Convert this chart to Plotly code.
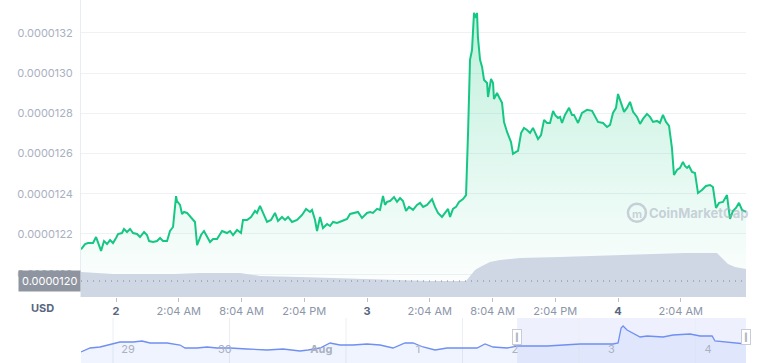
import plotly.graph_objects as go

# ---------------- data ----------------
# main chart: hours relative to Aug 2 00:00, price in units of 1e-7 USD
hours = [-3.35, -2.96, -2.68, -2.20, -1.91, -1.72, -1.43, -1.15, -0.86, -0.57, -0.29, 0.00, 0.19, 0.57, 0.76,
         1.05, 1.34, 1.63, 2.01, 2.29, 2.68, 2.96, 3.16, 3.54, 3.92, 4.21, 4.49, 4.88, 5.16, 5.45, 5.74, 5.83,
         6.12, 6.31, 6.50, 6.79, 7.27, 7.55, 7.75, 8.13, 8.41, 8.70, 8.99, 9.28, 9.66, 10.14, 10.61, 10.90,
         11.19, 11.57, 11.95, 12.14, 12.53, 12.91, 13.29, 13.48, 13.77, 14.06, 14.44, 14.82, 15.20, 15.49,
         15.87, 16.16, 16.45, 16.83, 17.31, 17.79, 18.17, 18.55, 18.74, 19.03, 19.22, 19.51, 19.79, 20.18,
         20.46, 20.75, 21.13, 21.61, 22.09, 22.38, 22.85, 23.14, 23.52, 24.00, 24.29, 24.57, 24.96, 25.24,
         25.53, 25.72, 25.91, 26.20, 26.58, 26.87, 27.16, 27.44, 27.73, 28.02, 28.40, 28.78, 29.07, 29.36,
         29.74, 30.22, 30.50, 30.79, 31.17, 31.46, 31.75, 31.94, 32.22, 32.51, 32.80, 33.18, 33.47, 33.66,
         33.85, 34.04, 34.14, 34.23, 34.42, 34.52, 34.61, 34.81, 35.00, 35.19, 35.48, 35.57, 35.86, 36.05,
         36.14, 36.43, 36.62, 36.91, 37.10, 37.39, 37.77, 37.96, 38.25, 38.44, 38.73, 39.01, 39.30, 39.59,
         39.87, 40.35, 40.64, 40.93, 41.21, 41.50, 41.79, 41.98, 42.26, 42.46, 42.65, 42.93, 43.32, 43.60,
         43.79, 44.18, 44.56, 45.04, 45.52, 45.80, 46.09, 46.57, 46.95, 47.24, 47.52, 47.81, 48.00, 48.29,
         48.58, 48.86, 49.15, 49.44, 49.82, 50.11, 50.39, 50.77, 51.06, 51.35, 51.73, 52.01, 52.30, 52.59,
         52.88, 53.16, 53.35, 53.64, 53.93, 54.21, 54.40, 54.60, 54.79, 55.08, 55.36, 55.65, 56.03, 56.41,
         56.80, 57.08, 57.37, 57.66, 58.04, 58.42, 58.52, 58.71, 59.00, 59.28, 59.57, 59.86, 60.05, 60.24]
price_e7 = [121.23, 121.49, 121.54, 121.54, 121.84, 121.54, 121.15, 121.64, 121.49, 121.69, 121.54, 121.79,
            121.99, 122.04, 122.24, 122.09, 122.24, 122.04, 121.99, 121.84, 122.09, 121.94, 121.64, 121.59,
            121.64, 121.79, 121.64, 121.64, 122.14, 122.34, 123.88, 123.63, 123.44, 122.99, 123.09, 123.04,
            122.74, 122.59, 121.44, 121.94, 122.14, 121.89, 121.59, 121.74, 121.74, 122.14, 122.04, 122.14,
            121.94, 122.19, 122.04, 122.69, 122.69, 122.84, 123.14, 123.04, 123.39, 123.04, 122.59, 122.69,
            123.04, 122.64, 122.84, 122.69, 122.84, 122.59, 122.69, 122.94, 123.24, 123.09, 123.19, 122.69,
            122.14, 122.84, 122.29, 122.49, 122.39, 122.59, 122.54, 122.64, 122.74, 122.99, 123.04, 123.09,
            122.79, 123.04, 123.09, 123.04, 123.24, 123.19, 123.88, 123.44, 123.59, 123.63, 123.83, 123.59,
            123.78, 123.63, 123.14, 123.34, 123.19, 123.44, 123.54, 123.34, 123.44, 123.73, 123.34, 123.04,
            122.84, 123.04, 123.24, 122.84, 123.24, 123.34, 123.59, 123.73, 123.93, 127.02, 130.66, 131.15,
            132.65, 133.00, 132.75, 133.00, 131.75, 130.66, 130.31, 129.66, 129.51, 128.81, 129.71, 129.51,
            128.71, 129.01, 128.81, 128.52, 127.57, 127.07, 126.57, 125.98, 126.08, 126.13, 127.02, 127.27,
            127.17, 127.02, 127.27, 126.72, 126.92, 127.67, 127.52, 127.52, 128.12, 127.92, 127.77, 127.82,
            127.52, 127.92, 128.27, 127.92, 127.92, 127.52, 128.02, 128.17, 128.12, 127.82, 127.57, 127.52,
            127.32, 127.42, 128.02, 128.27, 128.96, 128.52, 128.07, 128.27, 128.57, 128.07, 127.82, 127.47,
            127.72, 127.97, 127.82, 127.57, 127.62, 127.52, 127.92, 127.57, 127.37, 126.27, 124.93, 125.18,
            125.28, 125.58, 125.38, 125.28, 125.38, 125.08, 125.03, 124.03, 124.18, 124.38, 124.43, 124.33,
            123.29, 123.54, 123.59, 123.93, 123.49, 122.74, 123.14, 123.29, 123.54, 123.19, 123.14, 123.09]

# 24h volume (USD)
vol_hours = [-3.35, -0.29, 5.64, 8.03, 11.86, 13.77, 17.59, 20.46, 25.24, 30.02, 33.47, 33.85, 34.33, 34.81,
             35.76, 36.72, 38.63, 42.46, 45.32, 48.19, 50.11, 54.40, 57.46, 57.94, 58.52, 59.19, 60.24]
volume = [84200, 77400, 77400, 80800, 80800, 70700, 67300, 64000, 60600, 53900, 53900, 70700, 90900, 101000,
          117800, 124600, 131300, 134700, 138000, 141400, 144800, 148100, 148100, 131300, 111100, 101000, 94300]

# navigator: days since Jul 29 00:00, price in 1e-7 USD
nav_days = [-0.275, -0.197, -0.112, 0.0, 0.060, 0.172, 0.249, 0.318, 0.464, 0.575, 0.618, 0.721, 0.807, 0.893,
            1.004, 1.150, 1.322, 1.459, 1.605, 1.674, 1.777, 1.863, 1.948, 2.060, 2.180, 2.292, 2.403, 2.506,
            2.575, 2.661, 2.764, 2.867, 2.979, 3.124, 3.193, 3.262, 3.382, 3.468, 3.725, 4.009, 4.292, 4.335,
            4.361, 4.378, 4.412, 4.464, 4.524, 4.584, 4.721, 4.807, 4.953, 5.039, 5.142, 5.167, 5.270, 5.382,
            5.433]
nav_price_e7 = [120.0, 122.0, 122.5, 124.0, 125.0, 125.0, 125.5, 124.5, 124.5, 123.5, 122.0, 122.0, 122.5,
                122.0, 122.0, 121.5, 121.0, 121.5, 120.5, 121.0, 122.0, 124.5, 123.5, 123.5, 124.0, 123.5,
                122.0, 124.5, 124.5, 122.5, 121.0, 122.0, 122.0, 122.0, 124.0, 122.5, 122.0, 123.0, 123.0,
                124.0, 124.0, 124.5, 132.0, 133.0, 131.0, 129.5, 127.5, 128.0, 127.5, 128.5, 129.0, 128.0,
                128.0, 125.5, 125.0, 124.5, 124.0]

PRICE_UNIT = 1e-7
price = [v * PRICE_UNIT for v in price_e7]
nav_price = [v * PRICE_UNIT for v in nav_price_e7]

ref_price = 119.65 * PRICE_UNIT
ref_label = "0.0000120"

x_tick_hours = [0, 6, 12, 18, 24, 30, 36, 42, 48, 54]
x_tick_text = ["2", "2:04 AM", "8:04 AM", "2:04 PM", "3", "2:04 AM", "8:04 AM", "2:04 PM", "4", "2:04 AM"]
day_labels = {"2", "3", "4"}
y_ticks_e7 = [120, 122, 124, 126, 128, 130, 132]

nav_grid_days = [0, 1, 2, 3, 4, 5]
nav_label_days = [0.129, 0.959, 1.788, 2.618, 3.448, 4.278, 5.107]
nav_label_text = ["29", "30", "Aug", "1", "2", "3", "4"]
nav_selection = [3.468, 5.433]

x_range = [-3.35, 60.24]
y_range = [118.855 * PRICE_UNIT, 133.64 * PRICE_UNIT]

GREEN = "#16c784"

# ---------------- figure ----------------
fig = go.Figure()

fig.add_trace(go.Scatter(
    x=hours, y=price, mode="lines", xaxis="x", yaxis="y",
    line=dict(color=GREEN, width=2),
    fill="tozeroy",
    fillgradient=dict(type="vertical",
                      colorscale=[[0, "rgba(22,199,132,0.0)"], [1, "rgba(22,199,132,0.27)"]],
                      start=y_range[0], stop=max(price)),
    hoverinfo="skip"))

fig.add_trace(go.Scatter(
    x=vol_hours, y=volume, mode="lines", xaxis="x", yaxis="y3",
    line=dict(width=0, color="#cfd6e4"), fill="tozeroy", fillcolor="#cfd6e4",
    hoverinfo="skip"))

fig.add_trace(go.Scatter(
    x=nav_days, y=nav_price, mode="lines", xaxis="x2", yaxis="y2",
    line=dict(color="#6f8ff2", width=1.3), fill="tozeroy", fillcolor="rgba(111,143,242,0.10)",
    hoverinfo="skip"))

tick_text = [f"<b><span style='color:#58667e'>{t}</span></b>" if t in day_labels else t for t in x_tick_text]
nav_text = [f"<b>{t}</b>" if t == "Aug" else t for t in nav_label_text]

main_bottom = 1 - 297 / 363
nav_top = 45 / 363

fig.update_layout(
    width=760, height=363,
    margin=dict(l=81, r=14, t=0, b=0),
    paper_bgcolor="white", plot_bgcolor="white",
    showlegend=False,
    font=dict(family="Inter, sans-serif", size=11, color="#8c96a9"),
    xaxis=dict(domain=[0, 1], anchor="y", range=x_range,
               tickmode="array", tickvals=x_tick_hours, ticktext=tick_text,
               ticks="outside", ticklen=4, tickcolor="#b8c0cc",
               showgrid=False, zeroline=False, showline=False,
               tickfont=dict(size=11, color="#8c96a9")),
    yaxis=dict(domain=[main_bottom, 1], anchor="x", range=y_range,
               tickmode="array", tickvals=[v * PRICE_UNIT for v in y_ticks_e7], tickformat=".7f",
               gridcolor="#eff2f5", showline=True, linecolor="#e9edf2", zeroline=False,
               ticks="outside", ticklen=5, tickcolor="rgba(0,0,0,0)",
               tickfont=dict(size=11, color="#a9b0c1")),
    yaxis3=dict(overlaying="y", range=[0, 1_000_000], visible=False),
    xaxis2=dict(domain=[0, 1], anchor="y2", range=[nav_days[0], nav_days[-1]],
                tickmode="array", tickvals=nav_label_days, ticktext=nav_text,
                ticklabelposition="inside", ticks="inside", ticklen=7, tickcolor="rgba(0,0,0,0)",
                showgrid=False, zeroline=False, showline=False,
                tickfont=dict(size=11, color="#a9b1c2")),
    yaxis2=dict(domain=[0, nav_top], anchor="x2", range=[114.5 * PRICE_UNIT, 137 * PRICE_UNIT], visible=False),
)

shapes = [
    dict(type="line", xref="x domain", yref="y", x0=0, x1=1, y0=ref_price, y1=ref_price,
         line=dict(color="#7d8493", width=1, dash="1px,5px"), layer="above"),
    dict(type="rect", xref="x2", yref="y2 domain", x0=nav_selection[0], x1=nav_selection[1], y0=0, y1=1,
         fillcolor="rgba(90,120,240,0.10)", line=dict(width=0), layer="below"),
    dict(type="circle", xref="paper", yref="paper", x0=0.8225, x1=0.8495, y0=0.389, y1=0.439,
         line=dict(color="rgba(165,172,190,0.55)", width=2.5)),
]
for d in nav_grid_days:
    shapes.append(dict(type="line", xref="x2", yref="y2 domain", x0=d, x1=d, y0=0, y1=1,
                       line=dict(color="#eaeef3", width=1), layer="below"))
fig.update_layout(shapes=shapes)

annotations = [
    dict(xref="paper", yref="y", x=0, y=ref_price, xanchor="right", yanchor="middle",
         text=ref_label, showarrow=False, bgcolor="#8f95a0", borderpad=3,
         font=dict(color="white", size=11)),
    dict(xref="paper", yref="paper", x=-0.0586, y=0.1515, xanchor="center", yanchor="middle",
         text="<b>USD</b>", showarrow=False, font=dict(color="#58667e", size=11)),
    dict(xref="paper", yref="paper", x=0.929, y=0.414, xanchor="center", yanchor="middle",
         text="<b>CoinMarketCap</b>", showarrow=False, font=dict(color="rgba(165,172,190,0.55)", size=13)),
    dict(xref="paper", yref="paper", x=0.836, y=0.411, xanchor="center", yanchor="middle",
         text="<b>m</b>", showarrow=False, font=dict(color="rgba(165,172,190,0.55)", size=11)),
]
for xs in nav_selection:
    annotations.append(dict(xref="x2", yref="y2", x=xs, y=127.5 * PRICE_UNIT, xanchor="center",
                            yanchor="middle", text="‖", showarrow=False, bgcolor="white",
                            bordercolor="#c6ccd8", borderwidth=1, borderpad=2,
                            font=dict(color="#8a92a3", size=8)))
fig.update_layout(annotations=annotations)

fig.write_html("out.html", config={"displayModeBar": False},
               post_script="document.body.style.margin='0';document.body.style.overflow='hidden';")
